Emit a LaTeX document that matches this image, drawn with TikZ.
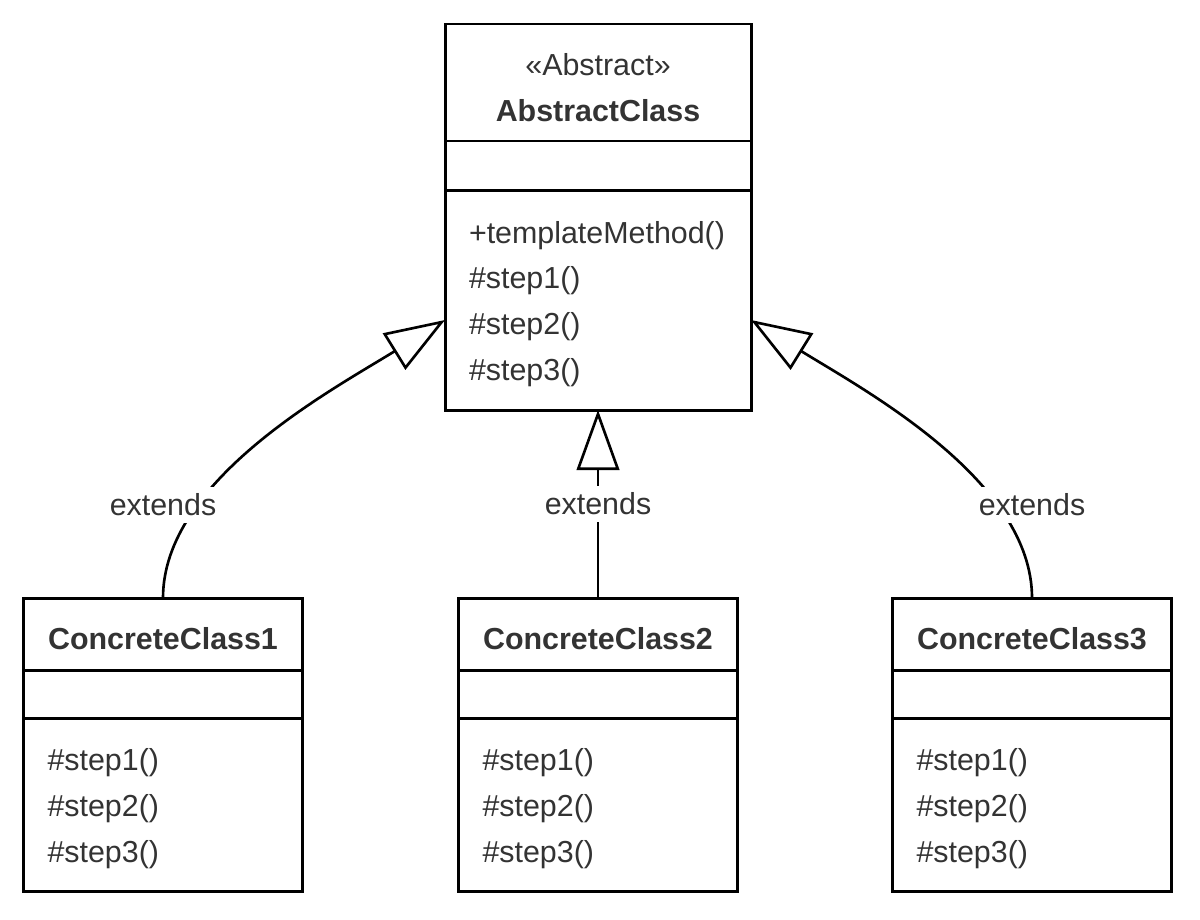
\documentclass[tikz,border=0pt]{standalone}
\usepackage{fontspec}
\setmainfont{Liberation Sans}
\usepackage{tikz}
\usetikzlibrary{arrows.meta,positioning}
\definecolor{umltext}{HTML}{333333}

\begin{document}
\begin{tikzpicture}[
  font=\fontsize{17.3}{26.1}\selectfont,
  classpart/.style={draw=black, line width=1.7pt, outer sep=0pt, inner sep=0pt,
    text=umltext},
  namebox/.style={classpart, align=center, text height=0.64cm},
  attrbox/.style={classpart},
  opsbox/.style={classpart, align=left, inner xsep=0.48cm, text height=0.6cm},
  extends/.style={-{Triangle[open, length=1.2cm, width=0.85cm]}, draw=black,
    line width=1.5pt},
  lbl/.style={fill=white, text=umltext, inner xsep=2pt, inner ysep=0.13cm}
]
\useasboundingbox (0,0) rectangle (24,-18.38);

% abstract class
\node[namebox, text height=1.58cm, minimum width=6.12cm, minimum height=2.34cm] (abname) at (11.96,-1.65)
  {«Abstract»\\\textbf{AbstractClass}};
\node[attrbox, minimum width=6.12cm, minimum height=0.98cm, below=0pt of abname] (abattr) {};
\node[opsbox, text width=5.16cm, minimum height=4.4cm, below=0pt of abattr] (abops)
  {+templateMethod()\\\#step1()\\\#step2()\\\#step3()};

% concrete classes
\node[namebox, minimum width=5.58cm, minimum height=1.44cm, below=3.76cm of abops] (cc2name)
  {\textbf{ConcreteClass2}};
\node[attrbox, minimum width=5.58cm, minimum height=0.96cm, below=0pt of cc2name] (cc2attr) {};
\node[opsbox, text width=4.62cm, minimum height=3.46cm, below=0pt of cc2attr] (cc2ops)
  {\#step1()\\\#step2()\\\#step3()};

\node[namebox, minimum width=5.58cm, minimum height=1.44cm, left=3.12cm of cc2name] (cc1name)
  {\textbf{ConcreteClass1}};
\node[attrbox, minimum width=5.58cm, minimum height=0.96cm, below=0pt of cc1name] (cc1attr) {};
\node[opsbox, text width=4.62cm, minimum height=3.46cm, below=0pt of cc1attr] (cc1ops)
  {\#step1()\\\#step2()\\\#step3()};

\node[namebox, minimum width=5.58cm, minimum height=1.44cm, right=3.1cm of cc2name] (cc3name)
  {\textbf{ConcreteClass3}};
\node[attrbox, minimum width=5.58cm, minimum height=0.96cm, below=0pt of cc3name] (cc3attr) {};
\node[opsbox, text width=4.62cm, minimum height=3.46cm, below=0pt of cc3attr] (cc3ops)
  {\#step1()\\\#step2()\\\#step3()};

% generalizations
\draw[extends] (cc1name.north) .. controls +(0,2.36) and +(-2.26,-1.4) .. ([yshift=-0.4cm]abops.west);
\draw[extends] (cc2name.north) -- node[lbl] (ext2) {extends} (abops.south);
\draw[extends] (cc3name.north) .. controls +(0,2.36) and +(2.26,-1.4) .. ([yshift=-0.4cm]abops.east);
\node[lbl] (ext1) at ([yshift=1.86cm]cc1name.north) {extends};
\node[lbl] (ext3) at ([yshift=1.86cm]cc3name.north) {extends};
\end{tikzpicture}
\end{document}
